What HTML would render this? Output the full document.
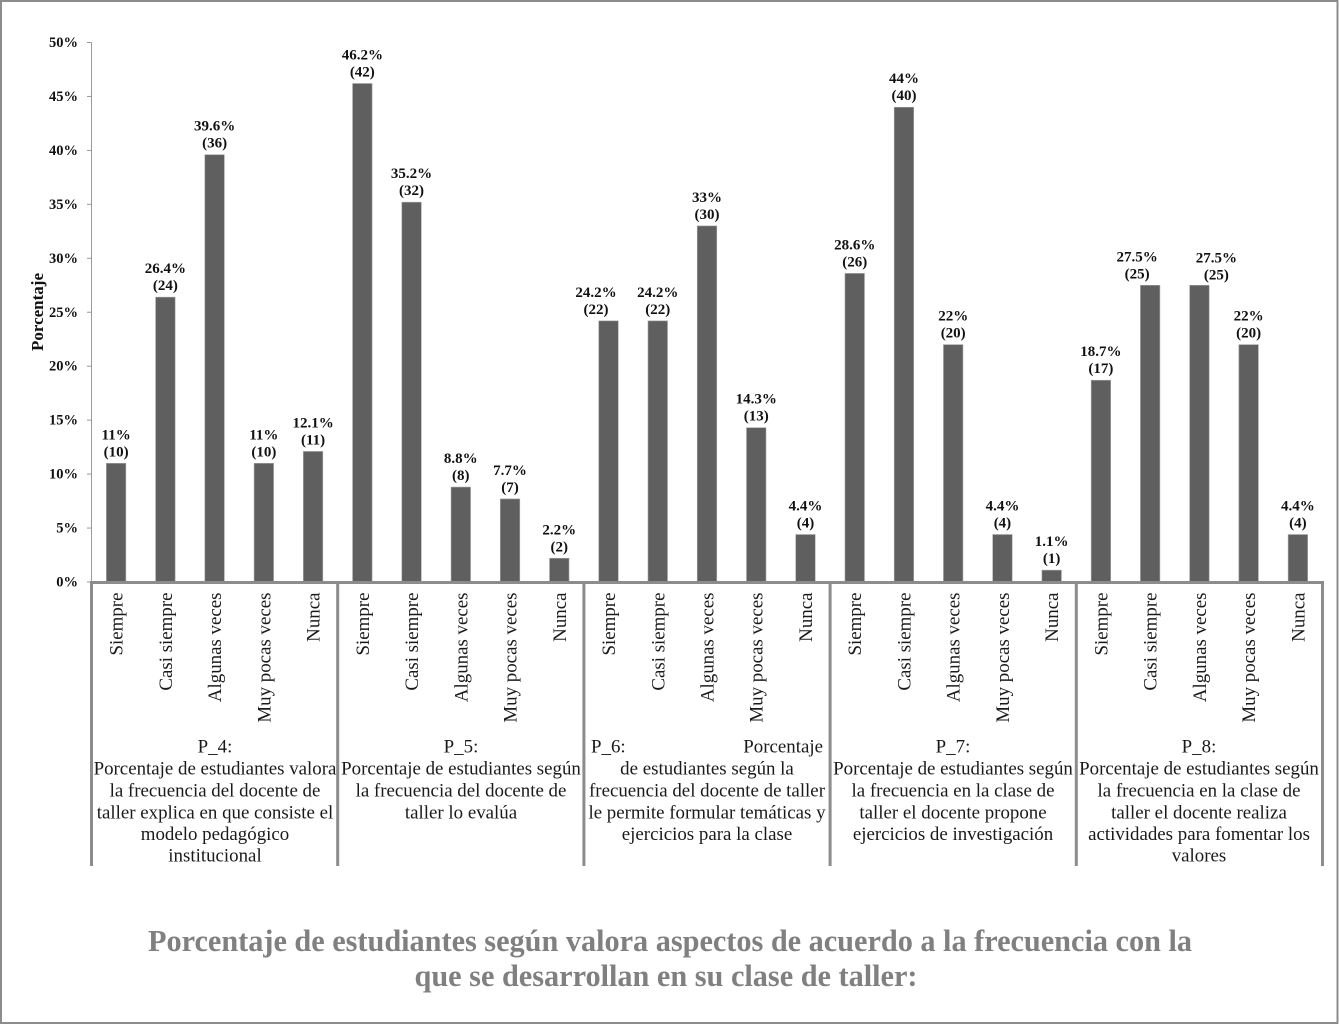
<!DOCTYPE html>
<html lang="es">
<head>
<meta charset="utf-8">
<title>Porcentaje de estudiantes</title>
<style>
html,body{margin:0;padding:0;background:#fff;width:1339px;height:1025px;overflow:hidden}
svg{display:block;font-family:"Liberation Serif",serif}
.cap{font-size:18.9px;fill:#1a1a1a;text-anchor:middle}
.ttl{font-size:30.3px;font-weight:bold;fill:#808080;text-anchor:middle}
</style>
</head>
<body>
<svg id="chart" width="1339" height="1025" viewBox="0 0 1339 1025">
  <rect x="1" y="1" width="1336.5" height="1022" fill="#fff" stroke="#8c8c8c" stroke-width="2"/>
  <text x="43" y="312" transform="rotate(-90 43 312)" text-anchor="middle" font-size="17" font-weight="bold" fill="#111">Porcentaje</text>
  <g id="plot"></g>
  <g>
    <text class="cap" x="215" y="752.5">P_4:</text>
    <text class="cap" x="215" y="774.5">Porcentaje de estudiantes valora</text>
    <text class="cap" x="215" y="796.5">la frecuencia del docente de</text>
    <text class="cap" x="215" y="818.5">taller explica en que consiste el</text>
    <text class="cap" x="215" y="840">modelo pedagógico</text>
    <text class="cap" x="215" y="861.5">institucional</text>
  </g>
  <g>
    <text class="cap" x="461" y="752.5">P_5:</text>
    <text class="cap" x="461" y="774.5">Porcentaje de estudiantes según</text>
    <text class="cap" x="461" y="796.5">la frecuencia del docente de</text>
    <text class="cap" x="461" y="818.5">taller lo evalúa</text>
  </g>
  <g>
    <text class="cap" x="591" y="752.5" style="text-anchor:start">P_6:</text>
    <text class="cap" x="823" y="752.5" style="text-anchor:end">Porcentaje</text>
    <text class="cap" x="707" y="774.5">de estudiantes según la</text>
    <text class="cap" x="707" y="796.5">frecuencia del docente de taller</text>
    <text class="cap" x="707" y="818.5">le permite formular temáticas y</text>
    <text class="cap" x="707" y="840">ejercicios para la clase</text>
  </g>
  <g>
    <text class="cap" x="953" y="752.5">P_7:</text>
    <text class="cap" x="953" y="774.5">Porcentaje de estudiantes según</text>
    <text class="cap" x="953" y="796.5">la frecuencia en la clase de</text>
    <text class="cap" x="953" y="818.5">taller el docente propone</text>
    <text class="cap" x="953" y="840">ejercicios de investigación</text>
  </g>
  <g>
    <text class="cap" x="1199" y="752.5">P_8:</text>
    <text class="cap" x="1199" y="774.5">Porcentaje de estudiantes según</text>
    <text class="cap" x="1199" y="796.5">la frecuencia en la clase de</text>
    <text class="cap" x="1199" y="818.5">taller el docente realiza</text>
    <text class="cap" x="1199" y="840">actividades para fomentar los</text>
    <text class="cap" x="1199" y="861.5">valores</text>
  </g>
  <text class="ttl" x="670" y="951" textLength="1044">Porcentaje de estudiantes según valora aspectos de acuerdo a la frecuencia con la</text>
  <text class="ttl" x="666" y="986" textLength="503">que se desarrollan en su clase de taller:</text>
</svg>
<script>
var yTicks = [0, 5, 10, 15, 20, 25, 30, 35, 40, 45, 50];
var categories = ["Siempre", "Casi siempre", "Algunas veces", "Muy pocas veces", "Nunca"];
var groups = ["P_4", "P_5", "P_6", "P_7", "P_8"];
var percentP4 = [11, 26.4, 39.6, 11, 12.1];
var percentP5 = [46.2, 35.2, 8.8, 7.7, 2.2];
var percentP6 = [24.2, 24.2, 33, 14.3, 4.4];
var percentP7 = [28.6, 44, 22, 4.4, 1.1];
var percentP8 = [18.7, 27.5, 27.5, 22, 4.4];
var countP4 = [10, 24, 36, 10, 11];
var countP5 = [42, 32, 8, 7, 2];
var countP6 = [22, 22, 30, 13, 4];
var countP7 = [26, 40, 20, 4, 1];
var countP8 = [17, 25, 25, 20, 4];

var percents = [percentP4, percentP5, percentP6, percentP7, percentP8];
var counts = [countP4, countP5, countP6, countP7, countP8];

var NS = "http://www.w3.org/2000/svg";
var plot = document.getElementById("plot");
var axisLeft = 91.5, groupWidth = 246.2, axisBottom = 582, axisTop = 42.5, dividerBottom = 866, barWidth = 19.5;

function yScale(v) { return axisBottom - (v / 50) * (axisBottom - axisTop); }
function groupX(g) { return axisLeft + g * groupWidth; }
function catX(g, c) { return groupX(g) + (c + 0.5) * groupWidth / categories.length; }
/* hand-moved data labels, as placed in the source chart */
function labelDx(g, c) {
  if (g === 2 && c === 0) return -12.5;
  if (g === 4 && c === 1) return -13;
  if (g === 4 && c === 2) return 17;
  return 0;
}
function labelDy(g, c) { return (g === 4 && c === 2) ? 1 : 0; }
function make(tag, attrs, text) {
  var el = document.createElementNS(NS, tag);
  for (var k in attrs) el.setAttribute(k, attrs[k]);
  if (text !== undefined) el.textContent = text;
  plot.appendChild(el);
  return el;
}

var yAxis = make("line", {x1: axisLeft, x2: axisLeft, y1: axisTop, y2: axisBottom, stroke: "#999", "stroke-width": 1});



yTicks.forEach(function (t) {
  var tick = make("line", {x1: 87, x2: axisLeft, y1: yScale(t), y2: yScale(t), stroke: "#999", "stroke-width": 1});
  
  
  var lab = make("text", {x: 78, y: yScale(t) + 4.5, "text-anchor": "end", "font-size": 14.5, "font-weight": "bold", fill: "#111"}, t + "%");
  
  
});

percents.forEach(function (series, g) {
  series.forEach(function (v, c) {
    var cx = catX(g, c), top = yScale(v);
    var bar = make("rect", {x: cx - barWidth / 2, y: top, width: barWidth, height: axisBottom - top, fill: "#5f5f5f", stroke: "#a5a5a5", "stroke-width": 0.6});
    
    
    var lx0 = cx + labelDx(g, c), dy = labelDy(g, c);
    var pct = make("text", {x: lx0, y: top - 24 + dy, "text-anchor": "middle", "font-size": 15, "font-weight": "bold", fill: "#111"}, v + "%");
    
    
    var cnt = make("text", {x: lx0, y: top - 7 + dy, "text-anchor": "middle", "font-size": 15, "font-weight": "bold", fill: "#111"}, "(" + counts[g][c] + ")");
    
    
    var lx = cx + 6.5, ly = 592.5;
    var cat = make("text", {x: lx, y: ly, transform: "rotate(-90 " + lx + " " + ly + ")", "text-anchor": "end", "font-size": 18.9, fill: "#1a1a1a"}, categories[c]);
    
    
  });
});

var xAxis = make("rect", {x: axisLeft - 1.5, y: axisBottom - 1, width: groupWidth * groups.length + 3, height: 3, fill: "#8c8c8c"});



for (var i = 0; i <= groups.length; i++) {
  var div = make("rect", {x: groupX(i) - 1.5, y: axisBottom, width: 3, height: dividerBottom - axisBottom, fill: "#8c8c8c"});
  
  
}
</script>
</body>
</html>
